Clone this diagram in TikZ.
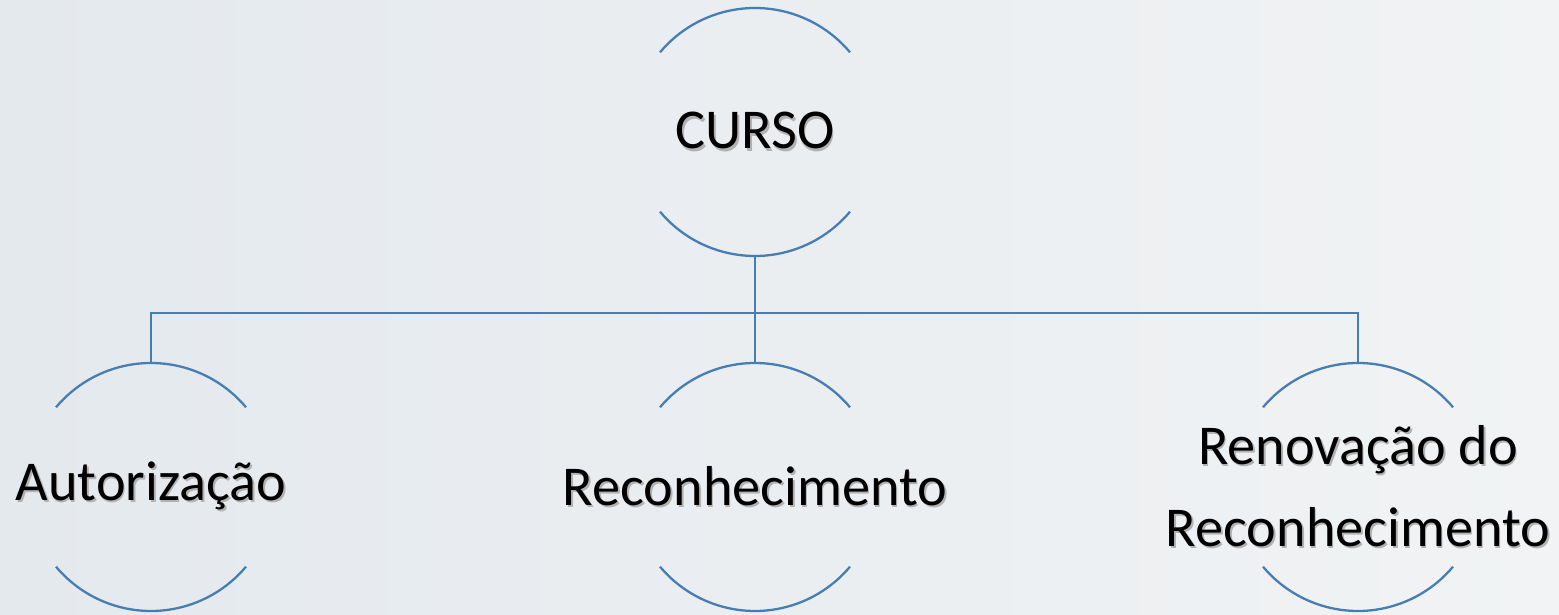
\documentclass[tikz,border=0pt]{standalone}
\usepackage{fontspec}
\setmainfont{Carlito}
\usetikzlibrary{positioning}
\definecolor{ringblue}{RGB}{70,125,178}
\definecolor{bgleft}{RGB}{228,233,238}
\definecolor{bgright}{RGB}{241,243,244}
\newcommand\shtxt[1]{\makebox[0pt][l]{\hspace{1pt}\raisebox{-1.2pt}{\textcolor{black!30}{#1}}}#1}
\begin{document}
\begin{tikzpicture}[scale=1,
ring/.style={draw=ringblue,line width=1.3pt},
conn/.style={draw=ringblue,line width=1.3pt},
lbl/.style={font=\fontsize{32}{46.5}\selectfont,align=center,inner sep=0pt}]
\shade[left color=bgleft,right color=bgright](0,0)rectangle(31.18,12.3);
\useasboundingbox(0,0)rectangle(31.18,12.3);
\node[lbl](curso)at(15.1,9.66){\shtxt{CURSO}};
\node[lbl](aut)at(3.02,2.56){\shtxt{Autorização}};
\node[lbl](rec)at(15.1,2.56){\shtxt{Reconhecimento}};
\node[lbl](ren)at(27.16,2.56){\shtxt{Renovação do}\\\shtxt{Reconhecimento}};
\foreach \n in {curso,aut,rec,ren}{
\draw[ring](\n.center)++(40:2.48)arc[start angle=40,end angle=140,radius=2.48];
\draw[ring](\n.center)++(220:2.48)arc[start angle=220,end angle=320,radius=2.48];
\path(\n.center)++(0,2.48)coordinate(\n-top);
\path(\n.center)++(0,-2.48)coordinate(\n-bot);
}
\coordinate(bus)at(15.1,6.04);
\draw[conn](curso-bot)--(rec-top);
\draw[conn](aut-top)|-(bus)-|(ren-top);
\end{tikzpicture}
\end{document}
